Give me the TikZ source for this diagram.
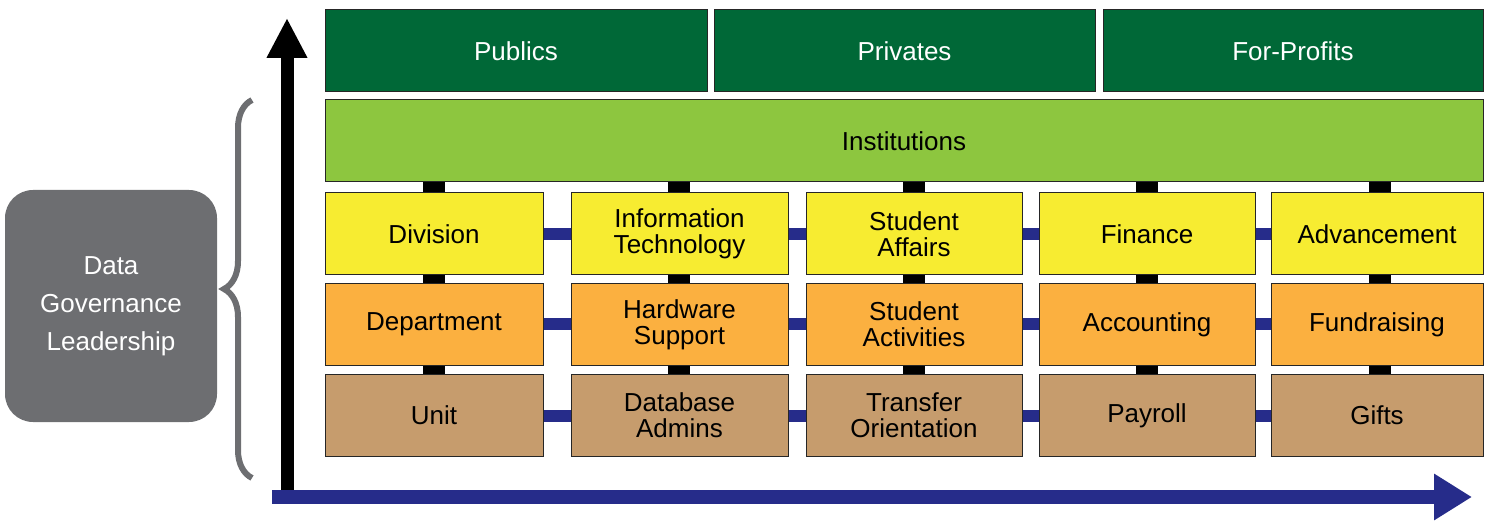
\documentclass[tikz,border=0pt]{standalone}
\usepackage{fontspec}
\setmainfont{Liberation Sans}
\usetikzlibrary{backgrounds,decorations.pathreplacing,arrows.meta}
\definecolor{dgreen}{HTML}{006837}
\definecolor{lgreen}{HTML}{8DC63F}
\definecolor{yel}{HTML}{F7EC31}
\definecolor{ora}{HTML}{FBB040}
\definecolor{tan}{HTML}{C69C6D}
\definecolor{navy}{HTML}{262C8A}
\definecolor{gbox}{HTML}{6D6E71}
\begin{document}
\begin{tikzpicture}[x=1pt,y=-1pt,
  box/.style={draw=black!85,line width=1pt,minimum height=82pt,align=center,font=\fontsize{26}{26}\selectfont,inner sep=0pt},
  vcon/.style={line width=22pt,black},
  hcon/.style={line width=12pt,navy}]
\useasboundingbox (0,0) rectangle (1500,529);
\node[box,fill=dgreen,text=white,minimum width=382pt] (pub) at (516,51) {Publics};
\node[box,fill=dgreen,text=white,minimum width=381pt] (pri) at (904.5,51) {Privates};
\node[box,fill=dgreen,text=white,minimum width=380pt] (fp) at (1293,51) {For-Profits};
\node[box,fill=lgreen,minimum width=1158pt] (inst) at (904,141) {Institutions};
\foreach \n/\x/\w/\a/\b/\c in {1/434/218/Division/Department/Unit,
  2/679.5/217/Information\\Technology/Hardware\\Support/Database\\Admins,
  3/914/216/Student\\Affairs/Student\\Activities/Transfer\\Orientation,
  4/1147/216/Finance/Accounting/Payroll,
  5/1377/212/Advancement/Fundraising/Gifts}{
  \node[box,fill=yel,minimum width=\w pt] (y\n) at (\x,234) {\a};
  \node[box,fill=ora,minimum width=\w pt] (o\n) at (\x,324.5) {\b};
  \node[box,fill=tan,minimum width=\w pt] (t\n) at (\x,415.5) {\c};
}
\begin{scope}[on background layer]
\foreach \n/\x in {1/434,2/679,3/914,4/1147,5/1380}{
  \draw[vcon] (\x,182) -- (\x,457);
}
\foreach \r in {y,o,t}{
  \draw[hcon] (\r1.east) -- (\r2.west);
  \draw[hcon] (\r2.east) -- (\r3.west);
  \draw[hcon] (\r3.east) -- (\r4.west);
  \draw[hcon] (\r4.east) -- (\r5.west);
}
\end{scope}
\coordinate (vb) at (287,492);
\coordinate (vt) at (287,18);
\draw[line width=13pt,-{Triangle[length=40pt,width=38pt]}] (vb) -- (vt);
\coordinate (hb) at (272,497);
\coordinate (he) at (1472,497);
\draw[navy,line width=14pt,-{Triangle[length=38pt,width=44pt]}] (hb) -- (he);
\node[fill=gbox,rounded corners=28pt,minimum width=212pt,minimum height=232pt,text=white,align=center,font=\fontsize{26}{38}\selectfont] (dg) at (111,306) {Data\\Governance\\Leadership};
\coordinate (bb) at (252,478);
\coordinate (bt) at (252,100);
\draw[gbox,line width=6pt,decorate,decoration={brace,amplitude=28pt}] (bb) -- (bt);
\end{tikzpicture}
\end{document}
